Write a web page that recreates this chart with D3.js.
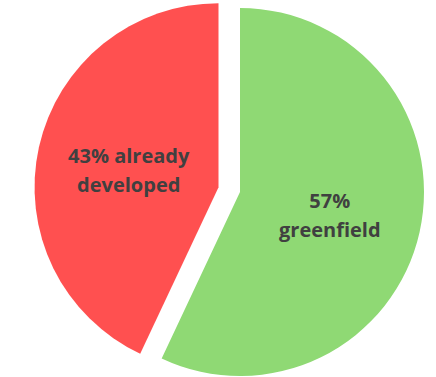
<!DOCTYPE html>
<html>
<head>
<meta charset="utf-8">
<script src="https://cdn.jsdelivr.net/npm/d3@7"></script>
<style>
  html, body { margin: 0; padding: 0; background: #ffffff; }
  svg { display: block; }
  text { font-family: "Open Sans", sans-serif; font-weight: 700; fill: #404040; }
</style>
</head>
<body>
<svg id="chart" width="436" height="377"></svg>
<script>
// Land share by development status
const categories = ["greenfield", "already developed"];
const shares = [57, 43];
const labelLines = [["57%", "greenfield"], ["43% already", "developed"]];
const colors = ["#8fd974", "#ff5050"];
const exploded = [false, true];

const svg = d3.select("#chart");
const cx = 240, cy = 192, radius = 184, explodeBy = 22;

const pie = d3.pie().sort(null).value(d => d.value);
const arcs = pie(categories.map((c, i) => ({ name: c, value: shares[i], lines: labelLines[i], color: colors[i], exploded: exploded[i] })));

const arc = d3.arc().innerRadius(0).outerRadius(radius);
const labelArc = d3.arc().innerRadius(radius * 0.5).outerRadius(radius * 0.5);

const g = svg.append("g").attr("transform", `translate(${cx},${cy})`);

const slice = g.selectAll("g.slice")
  .data(arcs)
  .join("g")
  .attr("class", "slice")
  .attr("transform", d => {
    if (!d.data.exploded) return null;
    const mid = (d.startAngle + d.endAngle) / 2;
    return `translate(${Math.sin(mid) * explodeBy},${-Math.cos(mid) * explodeBy})`;
  });

slice.append("path")
  .attr("d", arc)
  .attr("fill", d => d.data.color);

slice.append("text")
  .attr("text-anchor", "middle")
  .attr("font-size", 20)
  .attr("transform", d => {
    const [x, y] = labelArc.centroid(d);
    return `translate(${x},${y + 3})`;
  })
  .selectAll("tspan")
  .data(d => d.data.lines)
  .join("tspan")
  .attr("x", 0)
  .attr("y", (d, i, n) => (i - (n.length - 1) / 2) * 29 + 7)
  .text(d => d);
</script>
</body>
</html>
